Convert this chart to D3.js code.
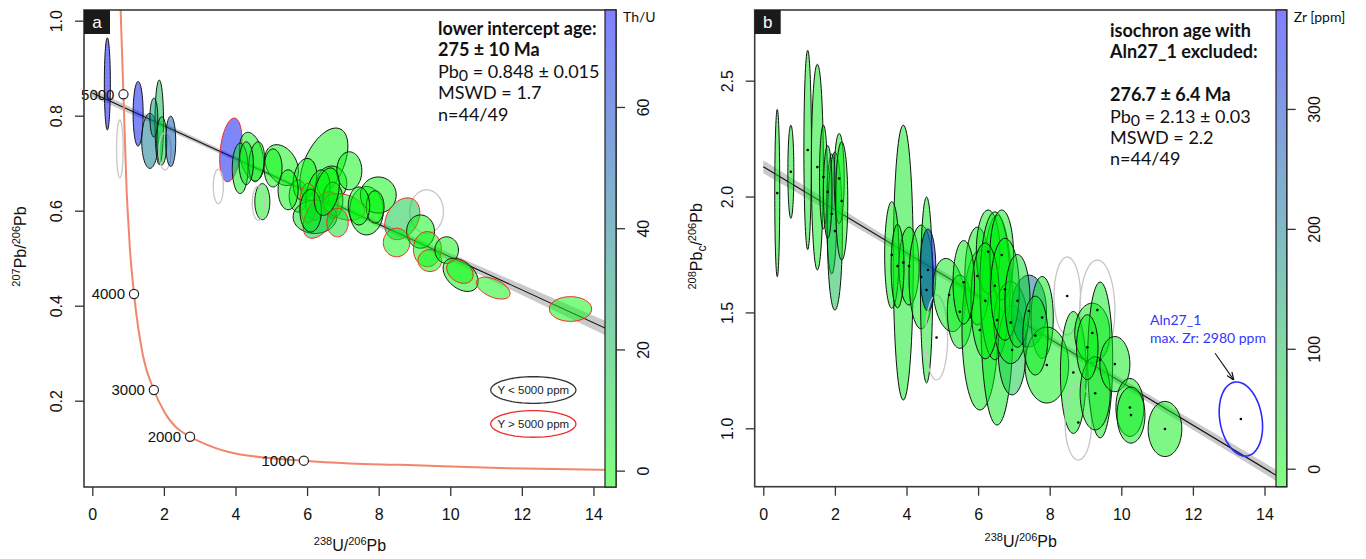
<!DOCTYPE html>
<html>
<head>
<meta charset="utf-8">
<script src="https://cdn.jsdelivr.net/npm/d3@7"></script>
<style>
body { margin: 0; background: #fff; }
svg { display: block; font-family: "Liberation Sans", Arial, sans-serif; }
.note { font-family: Lato, "Open Sans", sans-serif; fill: #111; }
</style>
</head>
<body>
<svg id="chart" width="1366" height="559"></svg>
<script>
// ---- panel a: Tera-Wasserburg, 238U/206Pb vs 207Pb/206Pb, colour = Th/U
// kind: k = Y < 5000 ppm (black), r = Y > 5000 ppm (red), x = excluded (grey)
const aX    = [0.42, 0.77, 1.28, 1.61, 1.87, 1.72, 1.94, 2.03, 2.19, 3.87, 3.52, 4.45, 4.59, 4.13, 5.29, 4.75, 4.64, 5.75, 6.47, 5.94, 6.69, 7.18, 5.47, 6.30, 6.72, 6.22, 6.03, 6.38, 7.03, 7.66, 7.99, 7.90, 9.34, 8.66, 9.17, 8.50, 9.36, 9.43, 9.90, 10.29, 10.27, 11.20, 13.36, 6.10, 6.55, 5.05, 7.45, 4.30, 6.85];
const aSx   = [0.084, 0.092, 0.14, 0.23, 0.12, 0.11, 0.14, 0.17, 0.14, 0.31, 0.14, 0.34, 0.22, 0.22, 0.47, 0.21, 0.17, 0.25, 0.67, 0.33, 0.42, 0.35, 0.28, 0.34, 0.28, 0.61, 0.23, 0.49, 0.58, 0.47, 0.50, 0.25, 0.47, 0.49, 0.39, 0.37, 0.39, 0.33, 0.33, 0.49, 0.37, 0.47, 0.59, 0.30, 0.35, 0.25, 0.30, 0.20, 0.30];
const aY    = [0.867, 0.730, 0.804, 0.747, 0.786, 0.796, 0.747, 0.725, 0.746, 0.728, 0.651, 0.714, 0.703, 0.689, 0.696, 0.619, 0.616, 0.631, 0.698, 0.666, 0.658, 0.684, 0.644, 0.633, 0.622, 0.587, 0.616, 0.591, 0.608, 0.600, 0.633, 0.608, 0.598, 0.583, 0.556, 0.533, 0.519, 0.495, 0.517, 0.465, 0.472, 0.437, 0.393, 0.600, 0.640, 0.690, 0.610, 0.700, 0.575];
const aSy   = [0.097, 0.061, 0.068, 0.058, 0.089, 0.041, 0.051, 0.039, 0.053, 0.067, 0.036, 0.051, 0.042, 0.053, 0.043, 0.038, 0.036, 0.034, 0.076, 0.044, 0.036, 0.040, 0.042, 0.053, 0.038, 0.035, 0.042, 0.049, 0.028, 0.051, 0.038, 0.034, 0.046, 0.044, 0.035, 0.030, 0.037, 0.023, 0.028, 0.035, 0.025, 0.023, 0.026, 0.045, 0.050, 0.040, 0.040, 0.045, 0.030];
const aRho  = [0, 0, 0, 0, 0, 0, 0, 0, 0, 0.3, 0, -0.3, 0.2, 0, -0.3, 0, 0, 0, 0.5, 0.2, 0, 0, 0, 0.3, 0, 0, 0, 0.5, -0.3, 0, 0, 0, 0, 0.3, 0, 0, 0, 0, 0, -0.4, -0.3, -0.5, 0, 0, 0.3, 0, 0, 0, 0];
const aThU  = [75, 0, 72, 40, 18, 30, 12, 0, 50, 72, 0, 2, 2, 2, 0, 0, 0, 0, 0, 0, 0, 0, 0, 0, 0, 5, 0, 15, 0, 0, 0, 0, 0, 15, 0, 0, 0, 0, 0, 0, 0, 0, 0, 3, 0, 0, 0, 5, 8];
const aKind = ["k", "x", "k", "k", "k", "k", "k", "x", "k", "r", "x", "k", "k", "k", "k", "k", "x", "k", "k", "k", "k", "k", "k", "k", "k", "k", "r", "r", "r", "k", "k", "k", "x", "r", "k", "r", "r", "r", "k", "k", "r", "r", "r", "k", "k", "k", "k", "k", "r"];

// concordia curve and age marks
const concX = [0.79, 0.87, 0.96, 0.99, 1.05, 1.165, 1.42, 1.72, 2.03, 2.73, 3.0, 3.93, 5.91, 7.2, 8.6, 11.6, 14.63];
const concY = [1.025, 0.845, 0.64, 0.597, 0.52, 0.425, 0.293, 0.2225, 0.174, 0.124, 0.114, 0.09, 0.0737, 0.068, 0.065, 0.058, 0.054];
const ageX = [5.91, 2.73, 1.72, 1.165, 0.87];
const ageY = [0.0737, 0.124, 0.2225, 0.4246, 0.845];
const ageLabels = ["1000", "2000", "3000", "4000", "5000"];

// regression line + envelope
const aLineX = [0, 14.63];
const aLineY = [0.848, 0.3425];
const aBandX = [0, 2, 4, 6, 8, 10, 12, 14.63];
const aBandW = [0.008, 0.006, 0.005, 0.005, 0.006, 0.008, 0.011, 0.016];

const aLegendX = 12.32;
const aLegendY = [0.2225, 0.151];
const aLegendText = ["Y < 5000 ppm", "Y > 5000 ppm"];

const aNote = ["lower intercept age:", "275 ± 10 Ma", "Pb0 = 0.848 ± 0.015", "MSWD = 1.7", "n=44/49"];

// ---- panel b: isochron, 238U/206Pb vs 208Pbc/206Pb, colour = Zr [ppm]
const bX    = [0.39, 0.77, 1.24, 1.51, 1.68, 1.91, 2.00, 2.12, 2.19, 1.80, 3.91, 3.59, 4.07, 4.41, 4.56, 4.60, 4.84, 5.19, 5.49, 6.05, 6.53, 5.98, 6.28, 6.47, 6.66, 6.95, 6.91, 7.42, 7.79, 7.92, 8.49, 9.33, 8.66, 8.80, 9.19, 9.41, 9.27, 9.82, 10.24, 10.27, 11.22, 6.20, 6.75, 7.10, 5.60, 7.60, 3.75, 9.05];
const bSx   = [0.07, 0.084, 0.106, 0.168, 0.11, 0.14, 0.21, 0.14, 0.17, 0.12, 0.28, 0.20, 0.28, 0.34, 0.17, 0.22, 0.31, 0.45, 0.35, 0.50, 0.45, 0.35, 0.33, 0.42, 0.33, 0.39, 0.47, 0.49, 0.31, 0.61, 0.37, 0.49, 0.36, 0.37, 0.49, 0.35, 0.42, 0.42, 0.39, 0.39, 0.47, 0.40, 0.40, 0.35, 0.30, 0.35, 0.18, 0.30];
const bY    = [2.015, 2.107, 2.201, 2.127, 2.084, 1.925, 1.851, 2.078, 1.981, 2.02, 1.715, 1.748, 1.700, 1.653, 1.597, 1.683, 1.392, 1.575, 1.503, 1.424, 1.467, 1.657, 1.762, 1.615, 1.748, 1.338, 1.456, 1.506, 1.478, 1.273, 1.571, 1.510, 1.241, 1.025, 1.411, 1.295, 1.151, 1.277, 1.090, 1.057, 0.997, 1.55, 1.60, 1.55, 1.63, 1.40, 1.70, 1.35];
const bSy   = [0.361, 0.201, 0.430, 0.444, 0.224, 0.259, 0.341, 0.194, 0.255, 0.20, 0.593, 0.230, 0.168, 0.224, 0.401, 0.177, 0.183, 0.158, 0.158, 0.345, 0.453, 0.211, 0.180, 0.319, 0.194, 0.194, 0.177, 0.155, 0.177, 0.164, 0.168, 0.216, 0.263, 0.162, 0.129, 0.336, 0.158, 0.119, 0.125, 0.121, 0.119, 0.25, 0.22, 0.20, 0.18, 0.17, 0.18, 0.14];
const bRho  = [0, 0, 0, 0, 0, 0, 0, 0, 0, 0, 0, 0, 0, 0, 0, 0, 0, -0.2, 0, 0, 0, 0, 0, 0, 0, 0, 0, 0, 0, 0, 0, 0, 0, 0, 0, 0, 0, 0, 0, 0, 0, 0, 0, 0, 0, 0, 0, 0];
const bZr   = [20, 20, 20, 15, 10, 10, 90, 5, 5, 40, 20, 10, 10, 10, 20, 330, 0, 20, 15, 15, 20, 10, 10, 5, 10, 70, 10, 210, 20, 10, 0, 0, 15, 0, 10, 20, 20, 15, 5, 15, 10, 10, 5, 40, 10, 20, 10, 10];
const bKind = ["k", "k", "k", "k", "k", "k", "k", "k", "k", "k", "k", "k", "k", "k", "k", "k", "x", "k", "k", "k", "k", "k", "k", "k", "k", "k", "k", "k", "k", "k", "x", "x", "k", "x", "k", "k", "k", "k", "k", "k", "k", "k", "k", "k", "k", "k", "k", "k"];

// Aln27_1, excluded from the fit
const outX = 13.34, outSx = 0.606, outY = 1.04, outSy = 0.16, outRho = -0.2;
const outLabel = ["Aln27_1", "max. Zr: 2980 ppm"];
const outLabelX = 10.8;
const outLabelY = [1.446, 1.367];
const outArrowX = [12.62, 13.13];
const outArrowY = [1.324, 1.211];

const bLineX = [0, 14.62];
const bLineY = [2.129, 0.770];
const bBandX = [0, 2, 4, 6, 8, 10, 12, 14.62];
const bBandW = [0.028, 0.022, 0.017, 0.015, 0.015, 0.017, 0.020, 0.025];

const bNote = ["isochron age with", "Aln27_1 excluded:", "", "276.7 ± 6.4 Ma", "Pb0 = 2.13 ± 0.03", "MSWD = 2.2", "n=44/49"];

const xTicks = [0, 2, 4, 6, 8, 10, 12, 14];
const aYTicks = [0.2, 0.4, 0.6, 0.8, 1.0];
const bYTicks = [1.0, 1.5, 2.0, 2.5];
const aBarTicks = [0, 20, 40, 60];
const bBarTicks = [0, 100, 200, 300];

const svg = d3.select("#chart");
const defs = svg.append("defs");

defs.append("marker")
    .attr("id", "arrow")
    .attr("viewBox", "0 0 10 10")
    .attr("refX", 9).attr("refY", 5)
    .attr("markerWidth", 7).attr("markerHeight", 7)
    .attr("orient", "auto")
    .append("path")
    .attr("d", "M0,1 L10,5 L0,9")
    .attr("fill", "none")
    .attr("stroke", "#111")
    .attr("stroke-width", 1.6);

// error ellipse from sx, sy and correlation rho
function ellipsePoints(cx, sx, cy, sy, rho) {
    const c = Math.sqrt(1 - rho * rho);
    return d3.range(0, 72).map(i => {
        const t = i / 72 * 2 * Math.PI;
        return [cx + sx * Math.cos(t), cy + sy * (rho * Math.cos(t) + c * Math.sin(t))];
    });
}

function drawPanel(p) {
    const x = d3.scaleLinear().domain(p.xDomain).range([p.left, p.right]);
    const y = d3.scaleLinear().domain(p.yDomain).range([p.bottom, p.top]);
    const color = d3.scaleLinear().domain(p.barDomain).range(["#00ff00", "#0000ff"]);
    const line = d3.line().x(d => x(d[0])).y(d => y(d[1]));

    defs.append("clipPath").attr("id", "clip-" + p.tag)
        .append("rect")
        .attr("x", p.left).attr("y", p.top)
        .attr("width", p.right - p.left).attr("height", p.bottom - p.top);

    const plot = svg.append("g").attr("clip-path", `url(#clip-${p.tag})`);

    // regression envelope and line
    const fit = d3.scaleLinear().domain(p.lineX).range(p.lineY);
    plot.append("path")
        .datum(p.bandX.map((v, i) => [v, p.bandW[i]]))
        .attr("d", d3.area().curve(d3.curveMonotoneX)
            .x(d => x(d[0]))
            .y0(d => y(fit(d[0]) - d[1]))
            .y1(d => y(fit(d[0]) + d[1])))
        .attr("fill", "#b4b4b4")
        .attr("fill-opacity", 0.7);
    plot.append("path")
        .datum(p.lineX.map((v, i) => [v, p.lineY[i]]))
        .attr("d", line)
        .attr("stroke", "#111")
        .attr("stroke-width", 1.1)
        .attr("fill", "none");

    return {x, y, color, line, plot};
}

function drawAxes(p, s) {
    const ax = svg.append("g")
        .attr("transform", `translate(0,${p.bottom})`)
        .call(d3.axisBottom(s.x).tickValues(xTicks).tickSize(9).tickPadding(13).tickFormat(d3.format("d")));
    const ay = svg.append("g")
        .attr("transform", `translate(${p.left},0)`)
        .call(d3.axisLeft(s.y).tickValues(p.yTicks).tickSize(9).tickFormat(d3.format(".1f")));
    ay.selectAll(".tick text")
        .attr("transform", "rotate(-90)")
        .attr("x", 0).attr("y", -22).attr("dy", 0)
        .attr("text-anchor", "middle");
    [ax, ay].forEach(g => {
        g.select(".domain").remove();
        g.selectAll(".tick line").attr("stroke", "#333").attr("stroke-width", 1.3);
        g.selectAll(".tick text").attr("font-size", 16).attr("font-family", "Liberation Sans, Arial, sans-serif").attr("fill", "#111");
    });

    // frame
    svg.append("rect")
        .attr("x", p.left).attr("y", p.top)
        .attr("width", p.right - p.left).attr("height", p.bottom - p.top)
        .attr("fill", "none").attr("stroke", "#3a3a3a").attr("stroke-width", 1.6);

    // colour bar
    const grad = defs.append("linearGradient")
        .attr("id", "grad-" + p.tag)
        .attr("x1", 0).attr("y1", 1).attr("x2", 0).attr("y2", 0);
    p.barDomain.forEach((v, i) => {
        grad.append("stop").attr("offset", i)
            .attr("stop-color", s.color(v)).attr("stop-opacity", 0.5);
    });
    svg.append("rect")
        .attr("x", p.barX).attr("y", p.top)
        .attr("width", p.right - p.barX).attr("height", p.bottom - p.top)
        .attr("fill", "#fff");
    svg.append("rect")
        .attr("x", p.barX).attr("y", p.top)
        .attr("width", p.right - p.barX).attr("height", p.bottom - p.top)
        .attr("fill", `url(#grad-${p.tag})`)
        .attr("stroke", "#222").attr("stroke-width", 1.2);
    const cb = d3.scaleLinear().domain(p.barDomain).range([p.bottom, p.top]);
    const ac = svg.append("g")
        .attr("transform", `translate(${p.right},0)`)
        .call(d3.axisRight(cb).tickValues(p.barTicks).tickSize(9).tickFormat(d3.format("d")));
    ac.select(".domain").remove();
    ac.selectAll(".tick line").attr("stroke", "#333").attr("stroke-width", 1.3);
    ac.selectAll(".tick text")
        .attr("transform", "rotate(-90)")
        .attr("x", 0).attr("y", 33).attr("dy", 0)
        .attr("text-anchor", "middle")
        .attr("font-size", 16).attr("fill", "#111");
    svg.append("text").attr("class", "note")
        .attr("x", p.right + 7).attr("y", 22)
        .attr("font-size", 14)
        .text(p.barTitle);

    // panel tag
    svg.append("rect")
        .attr("x", p.left).attr("y", p.top)
        .attr("width", 26).attr("height", 24)
        .attr("fill", "#1a1a1a");
    svg.append("text")
        .attr("x", p.left + 13).attr("y", p.top + 18)
        .attr("text-anchor", "middle")
        .attr("font-size", 17).attr("fill", "#fff")
        .text(p.tag);

    // axis titles
    const xt = svg.append("text")
        .attr("x", (p.left + p.right) / 2).attr("y", p.xTitleY)
        .attr("text-anchor", "middle").attr("font-size", 16).attr("fill", "#111");
    xt.append("tspan").attr("font-size", 11).attr("dy", -6).text("238");
    xt.append("tspan").attr("dy", 6).text("U/");
    xt.append("tspan").attr("font-size", 11).attr("dy", -6).text("206");
    xt.append("tspan").attr("dy", 6).text("Pb");

    const yt = svg.append("text")
        .attr("transform", `translate(${p.yTitleX},${(p.top + p.bottom) / 2 - 2}) rotate(-90)`)
        .attr("text-anchor", "middle").attr("font-size", 16).attr("fill", "#111");
    yt.append("tspan").attr("font-size", 11).attr("dy", -6).text(p.yIso);
    yt.append("tspan").attr("dy", 6).text("Pb");
    if (p.ySub) {
        yt.append("tspan").attr("font-size", 12).attr("dy", 4).text(p.ySub);
        yt.append("tspan").attr("dy", -4).text("/");
    } else {
        yt.append("tspan").text("/");
    }
    yt.append("tspan").attr("font-size", 11).attr("dy", -6).text("206");
    yt.append("tspan").attr("dy", 6).text("Pb");
}

function drawNote(lines, x0, y0, boldRows) {
    lines.forEach((t, i) => {
        if (!t) return;
        const txt = svg.append("text").attr("class", "note")
            .attr("x", x0).attr("y", y0 + i * 21.4)
            .attr("font-size", 18)
            .attr("font-weight", boldRows.includes(i) ? 700 : 400);
        if (t.startsWith("Pb0")) {
            txt.append("tspan").text("Pb");
            txt.append("tspan").attr("font-size", 16).attr("dy", 3).text("0");
            txt.append("tspan").attr("dy", -3).text(t.slice(3));
        } else {
            txt.text(t);
        }
    });
}

function drawEllipses(s, X, Sx, Y, Sy, Rho, V, Kind) {
    const stroke = {k: "#111", r: "#ff1f1f", x: "#c6c6c6"};
    s.plot.append("g")
        .selectAll("path")
        .data(d3.range(X.length))
        .join("path")
        .attr("d", i => s.line(ellipsePoints(X[i], Sx[i], Y[i], Sy[i], Rho[i])) + "Z")
        .attr("fill", i => Kind[i] === "x" ? "none" : s.color(V[i]))
        .attr("fill-opacity", 0.5)
        .attr("stroke", i => stroke[Kind[i]])
        .attr("stroke-width", i => Kind[i] === "x" ? 1.3 : 1);
}

// ---------- panel a
const pa = {
    tag: "a", left: 84, right: 616, top: 10, bottom: 487, barX: 605,
    xDomain: [-0.232, 14.63], yDomain: [0.0183, 1.0225], yTicks: aYTicks,
    barDomain: [-2.7, 76], barTicks: aBarTicks, barTitle: "Th/U",
    lineX: aLineX, lineY: aLineY, bandX: aBandX, bandW: aBandW,
    xTitleY: 551, yTitleX: 26, yIso: "207"
};
const sa = drawPanel(pa);

sa.plot.append("path")
    .datum(concX.map((v, i) => [v, concY[i]]))
    .attr("d", sa.line.curve(d3.curveMonotoneX))
    .attr("fill", "none")
    .attr("stroke", "#f0876a")
    .attr("stroke-width", 2);
sa.line.curve(d3.curveLinear);

drawEllipses(sa, aX, aSx, aY, aSy, aRho, aThU, aKind);

sa.plot.selectAll(".age")
    .data(ageX.map((v, i) => i))
    .join("circle")
    .attr("cx", i => sa.x(ageX[i]))
    .attr("cy", i => sa.y(ageY[i]))
    .attr("r", 4.6)
    .attr("fill", "#fff")
    .attr("stroke", "#222")
    .attr("stroke-width", 1.2);
svg.append("g").selectAll("text")
    .data(ageX.map((v, i) => i))
    .join("text")
    .attr("x", i => sa.x(ageX[i]) - 9)
    .attr("y", i => sa.y(ageY[i]))
    .attr("dy", "0.36em")
    .attr("text-anchor", "end")
    .attr("font-size", 15)
    .attr("fill", "#111")
    .text(i => ageLabels[i]);

// legend
const legStroke = ["#333", "#ee2a2a"];
aLegendY.forEach((ly, i) => {
    svg.append("path")
        .attr("d", sa.line(ellipsePoints(aLegendX, 1.19, ly, 0.028, 0)) + "Z")
        .attr("fill", "none")
        .attr("stroke", legStroke[i])
        .attr("stroke-width", 1.3);
    svg.append("text")
        .attr("x", sa.x(aLegendX)).attr("y", sa.y(ly))
        .attr("dy", "0.35em")
        .attr("text-anchor", "middle")
        .attr("font-size", 11.5).attr("fill", "#222")
        .text(aLegendText[i]);
});

drawAxes(pa, sa);
drawNote(aNote, 438, 35, [0, 1]);

// ---------- panel b
const pb = {
    tag: "b", left: 754.7, right: 1286.7, top: 10, bottom: 486.7, barX: 1276,
    xDomain: [-0.24, 14.62], yDomain: [0.748, 2.805], yTicks: bYTicks,
    barDomain: [-15, 382.5], barTicks: bBarTicks, barTitle: "Zr [ppm]",
    lineX: bLineX, lineY: bLineY, bandX: bBandX, bandW: bBandW,
    xTitleY: 547, yTitleX: 702, yIso: "208", ySub: "c"
};
const sb = drawPanel(pb);

drawEllipses(sb, bX, bSx, bY, bSy, bRho, bZr, bKind);

sb.plot.append("path")
    .attr("d", sb.line(ellipsePoints(outX, outSx, outY, outSy, outRho)) + "Z")
    .attr("fill", "none")
    .attr("stroke", "#2a2aff")
    .attr("stroke-width", 1.6);

sb.plot.append("g")
    .selectAll("circle")
    .data(bX.concat([outX]).map((v, i) => [v, bY.concat([outY])[i]]))
    .join("circle")
    .attr("cx", d => sb.x(d[0]))
    .attr("cy", d => sb.y(d[1]))
    .attr("r", 1.3)
    .attr("fill", "#000");

outLabel.forEach((t, i) => {
    svg.append("text").attr("class", "note")
        .attr("x", sb.x(outLabelX)).attr("y", sb.y(outLabelY[i]))
        .attr("font-size", 14)
        .style("fill", "#3535ff")
        .text(t);
});
svg.append("path")
    .attr("d", sb.line(outArrowX.map((v, i) => [v, outArrowY[i]])))
    .attr("stroke", "#111")
    .attr("stroke-width", 1.1)
    .attr("marker-end", "url(#arrow)");

drawAxes(pb, sb);
drawNote(bNote, 1110, 37, [0, 1, 3]);
</script>
</body>
</html>
